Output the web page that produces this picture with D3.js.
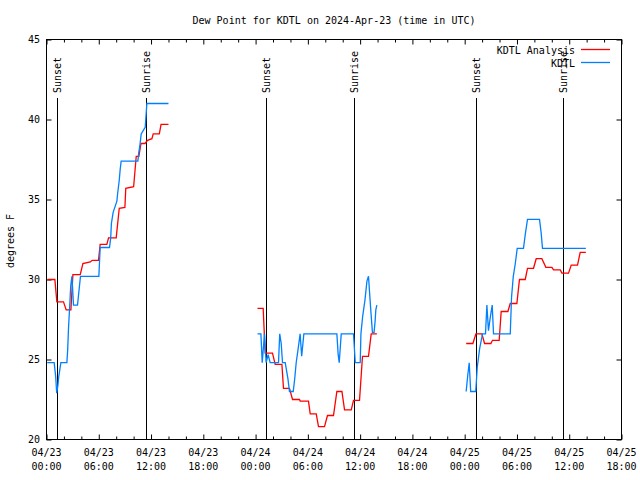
<!DOCTYPE html>
<html><head><meta charset="utf-8">
<script src="https://cdn.jsdelivr.net/npm/d3@7"></script>
<style>
body{margin:0;background:#fff}
svg text{font-family:"DejaVu Sans Mono",monospace;font-size:10px;fill:#000}
</style>
</head><body><svg id="c" width="640" height="480"></svg>
<script>
const title = "Dew Point for KDTL on 2024-Apr-23 (time in UTC)";
const yLabel = "degrees F";
const seriesNames = ["KDTL Analysis", "KDTL"];
const seriesColors = ["#ff0000", "#0080ff"];
const yTicks = [20, 25, 30, 35, 40, 45];
const xMajorHours = [0, 6, 12, 18, 24, 30, 36, 42, 48, 54, 60, 66];
const xMinorHours = d3.range(0, 67, 2);
const xTickDates = ["04/23","04/23","04/23","04/23","04/24","04/24","04/24","04/24","04/25","04/25","04/25","04/25"];
const xTickTimes = ["00:00","06:00","12:00","18:00","00:00","06:00","12:00","18:00","00:00","06:00","12:00","18:00"];
const sunHours = [1.27, 11.45, 25.27, 35.37, 49.33, 59.33];
const sunLabels = ["Sunset","Sunrise","Sunset","Sunrise","Sunset","Sunrise"];

// hours since 04/23 00:00 UTC, value in degrees F; null = data gap
const analysisHours = [
 0.11,0.96,1.19,1.95,2.26,2.80,3.03,3.87,4.18,5.02,5.25,5.97,6.16,6.93,7.12,8.00,8.35,9.00,9.10,10.00,10.30,10.60,10.85,11.30,11.60,12.10,12.25,12.95,13.15,14.00,
 null,
 24.22,24.87,25.10,25.94,26.25,27.02,27.20,27.89,28.24,29.04,29.12,30.07,30.27,30.96,31.22,31.91,32.25,32.94,33.33,33.91,34.21,34.98,35.24,35.93,36.27,36.96,37.27,37.92,
 null,
 48.17,48.94,49.29,49.98,50.28,51.01,51.19,51.96,52.19,52.96,53.23,53.99,54.29,54.95,55.21,55.90,56.21,56.86,57.32,58.01,58.20,58.97,59.16,59.92,60.23,60.95,61.26,61.91
];
const analysisValues = [
 30.0,30.0,28.6,28.6,28.1,28.1,30.3,30.3,31.0,31.1,31.2,31.2,32.2,32.2,32.6,32.6,34.45,34.5,35.7,35.8,37.7,37.7,38.5,38.5,38.7,38.8,39.1,39.1,39.7,39.7,
 null,
 28.2,28.2,25.4,25.4,24.7,24.7,23.2,23.2,22.5,22.5,22.4,22.4,21.6,21.6,20.8,20.8,21.5,21.5,23.0,23.0,21.85,21.85,22.45,22.45,25.2,25.2,26.6,26.6,
 null,
 26.0,26.0,26.6,26.6,26.0,26.0,26.2,26.2,28.0,28.0,28.5,28.5,30.0,30.0,30.7,30.7,31.3,31.3,30.76,30.76,30.6,30.6,30.4,30.4,30.9,30.9,31.7,31.7
];
const obsHours = [
 0.08,0.88,1.06,1.17,1.29,1.40,1.65,2.34,2.43,2.53,2.66,2.78,2.92,3.10,3.56,3.90,6.01,6.16,7.23,7.37,7.45,7.65,8.08,8.15,8.35,8.46,8.57,10.49,10.58,10.70,10.87,11.25,11.33,11.52,14.00,
 null,
 24.22,24.61,24.76,25.02,25.21,25.44,25.67,26.63,26.77,26.94,27.09,27.40,27.71,27.89,28.32,28.49,28.66,28.89,29.11,29.29,29.54,33.33,33.48,33.60,33.83,35.24,35.44,36.01,36.09,36.29,36.55,36.78,36.96,37.07,37.22,37.41,37.60,37.72,37.80,37.92,
 null,
 48.17,48.35,48.52,48.69,49.27,49.44,49.72,50.05,50.39,50.55,50.73,50.93,51.16,51.31,53.23,53.38,53.58,53.81,54.03,54.75,54.95,55.21,56.59,56.78,56.93,61.91
];
const obsValues = [
 24.8,24.8,23.9,22.9,23.3,23.9,24.8,24.8,25.6,27.0,28.3,29.6,30.2,28.4,28.4,30.2,30.2,32.0,32.0,32.6,33.5,34.2,34.9,35.3,36.2,36.9,37.4,37.4,37.9,38.3,39.1,39.45,39.5,41.0,41.0,
 null,
 26.6,26.6,24.8,26.6,24.8,25.3,24.8,24.8,26.6,26.0,24.8,24.8,23.8,23.0,23.0,23.8,24.8,25.7,26.6,25.2,26.6,26.6,25.3,24.8,26.6,26.6,24.8,24.8,26.6,27.7,28.7,29.9,30.2,29.3,28.1,26.7,26.7,27.4,28.1,28.4,
 null,
 23.0,24.0,24.8,23.0,23.0,24.5,25.7,26.6,26.6,28.4,26.8,27.6,28.4,26.6,26.6,28.9,30.2,31.0,31.95,31.95,32.8,33.76,33.76,32.9,31.95,31.95
];

const L = 46.5, R = 621.5, T = 39.5, B = 439.5;
const svg = d3.select("#c");
const x = d3.scaleLinear().domain([0, 66]).range([L, R]);
const y = d3.scaleLinear().domain([20, 45]).range([B, T]);

// title
svg.append("text").attr("x", 334).attr("y", 24).attr("text-anchor", "middle").text(title);

// y label
svg.append("text").attr("transform", "translate(14,241) rotate(-90)")
  .attr("text-anchor", "middle").text(yLabel);

// axes: bottom/top major & minor, left/right
const minor = xMinorHours.filter(h => h % 6 !== 0);
svg.append("g").attr("transform", `translate(0,${B})`)
  .call(d3.axisBottom(x).tickValues(minor).tickSize(-3).tickFormat(""));
svg.append("g").attr("transform", `translate(0,${B})`)
  .call(d3.axisBottom(x).tickValues(xMajorHours).tickSize(-5).tickFormat(""));
svg.append("g").attr("transform", `translate(0,${T})`)
  .call(d3.axisTop(x).tickValues(minor).tickSize(-3).tickFormat(""));
svg.append("g").attr("transform", `translate(0,${T})`)
  .call(d3.axisTop(x).tickValues(xMajorHours).tickSize(-5).tickFormat(""));
svg.append("g").attr("transform", `translate(${L},0)`)
  .call(d3.axisLeft(y).tickValues(yTicks).tickSize(-5).tickFormat(""));
svg.append("g").attr("transform", `translate(${R},0)`)
  .call(d3.axisRight(y).tickValues(yTicks).tickSize(-5).tickFormat(""));
svg.selectAll(".domain").remove();
svg.selectAll(".tick line").attr("stroke", "#000").attr("stroke-width", 1);

// tick labels
xMajorHours.forEach((h, i) => {
  const t = svg.append("text").attr("x", x(h)).attr("text-anchor", "middle");
  t.append("tspan").attr("x", x(h)).attr("y", 456).text(xTickDates[i]);
  t.append("tspan").attr("x", x(h)).attr("y", 470).text(xTickTimes[i]);
});
yTicks.forEach(v => {
  svg.append("text").attr("x", 40).attr("y", y(v) + 3.5).attr("text-anchor", "end").text(v);
});

// sun lines
sunHours.forEach((h, i) => {
  const xx = Math.floor(x(h)) + 0.5;
  svg.append("line").attr("x1", xx).attr("x2", xx).attr("y1", 98).attr("y2", B)
    .attr("stroke", "#000").attr("stroke-width", 1);
  svg.append("text").attr("transform", `translate(${xx + 3.5},93) rotate(-90)`)
    .attr("text-anchor", "start").text(sunLabels[i]);
});

// series
function pts(hs, vs) { return hs.map((h, i) => h === null ? null : [h, vs[i]]); }
const line = d3.line().defined(d => d !== null).x(d => x(d[0])).y(d => y(d[1]));
svg.append("path").attr("d", line(pts(analysisHours, analysisValues)))
  .attr("fill", "none").attr("stroke", seriesColors[0]).attr("stroke-width", 1.3);
svg.append("path").attr("d", line(pts(obsHours, obsValues)))
  .attr("fill", "none").attr("stroke", seriesColors[1]).attr("stroke-width", 1.3);

// frame
svg.append("rect").attr("x", L).attr("y", T).attr("width", R - L).attr("height", B - T)
  .attr("fill", "none").attr("stroke", "#000").attr("stroke-width", 1);

// legend
seriesNames.forEach((n, i) => {
  const yy = 50 + i * 13;
  svg.append("text").attr("x", 575).attr("y", yy + 3.5).attr("text-anchor", "end").text(n);
  svg.append("line").attr("x1", 581).attr("x2", 610).attr("y1", yy - 0.5).attr("y2", yy - 0.5)
    .attr("stroke", seriesColors[i]).attr("stroke-width", 1.3);
});
</script></body></html>
